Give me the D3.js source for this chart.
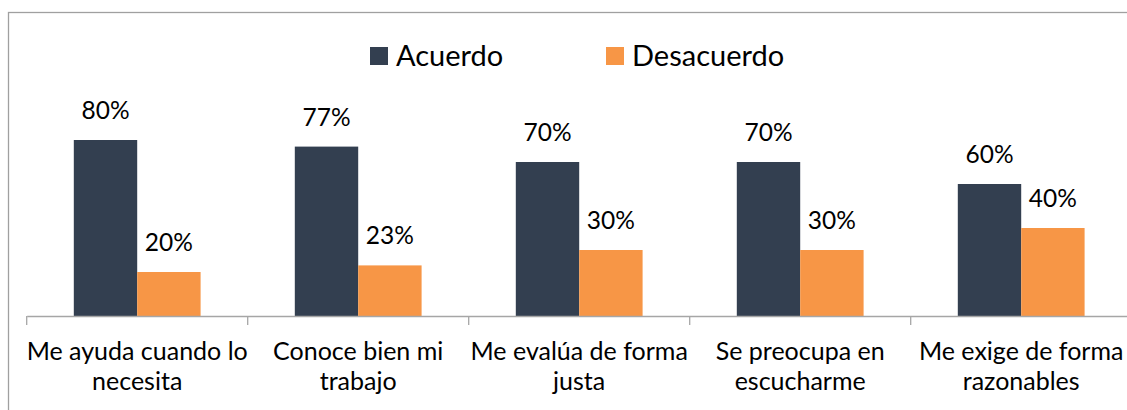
<!DOCTYPE html>
<html>
<head>
<meta charset="utf-8">
<script src="https://cdn.jsdelivr.net/npm/d3@7"></script>
<style>
  html, body { margin: 0; padding: 0; background: #fff; }
  svg { display: block; }
  text { font-family: Lato, "Liberation Sans", sans-serif; fill: #000; }
</style>
</head>
<body>
<svg id="chart" width="1127" height="410"></svg>
<script>
// ---- data ----
const categories = [
  "Me ayuda cuando lo necesita",
  "Conoce bien mi trabajo",
  "Me evalúa de forma justa",
  "Se preocupa en escucharme",
  "Me exige de forma razonables"
];
const categoryLines = [
  ["Me ayuda cuando lo", "necesita"],
  ["Conoce bien mi", "trabajo"],
  ["Me evalúa de forma", "justa"],
  ["Se preocupa en", "escucharme"],
  ["Me exige de forma", "razonables"]
];
const seriesNames = ["Acuerdo", "Desacuerdo"];
const acuerdo = [80, 77, 70, 70, 60];
const desacuerdo = [20, 23, 30, 30, 40];
const seriesValues = [acuerdo, desacuerdo];
const colors = ["#333F50", "#F79646"];

// ---- layout ----
const svg = d3.select("#chart");
const baseY = 316;
const x0 = d3.scaleBand().domain(categories).range([26.7, 1131.7]).paddingInner(0).paddingOuter(0);
const x1 = d3.scaleBand().domain(seriesNames).range([0, x0.bandwidth()]).paddingInner(0).paddingOuter(0.743);
const y = d3.scaleLinear().domain([0, 100]).range([baseY, 96]);

// outer chart border
svg.append("rect")
  .attr("x", 8.5).attr("y", 12.5)
  .attr("width", 1200).attr("height", 500)
  .attr("fill", "none").attr("stroke", "#A0A0A0").attr("stroke-width", 1.3);

// bars
const groups = svg.selectAll("g.cat")
  .data(categories)
  .join("g")
  .attr("class", "cat")
  .attr("transform", d => `translate(${x0(d)},0)`);

seriesNames.forEach((s, si) => {
  groups.append("rect")
    .attr("x", x1(s))
    .attr("y", (d, i) => y(seriesValues[si][i]))
    .attr("width", x1.bandwidth())
    .attr("height", (d, i) => baseY - y(seriesValues[si][i]))
    .attr("fill", colors[si]);
  groups.append("text")
    .attr("x", x1(s) + x1.bandwidth() / 2)
    .attr("y", (d, i) => y(seriesValues[si][i]) - 21)
    .attr("text-anchor", "middle")
    .attr("font-size", 24.5)
    .text((d, i) => seriesValues[si][i] + "%");
});

// x axis
const axis = d3.axisBottom(x0).tickSize(0).tickFormat("");
const ax = svg.append("g").attr("transform", `translate(0,${baseY})`).call(axis);
ax.select(".domain").attr("stroke", "#A6A6A6").attr("stroke-width", 1.3);
// category boundary ticks
const bounds = categories.map(c => x0(c)).concat([x0.range()[1]]);
ax.selectAll("line.bound").data(bounds).join("line")
  .attr("class", "bound")
  .attr("x1", d => d).attr("x2", d => d)
  .attr("y1", 0).attr("y2", 9)
  .attr("stroke", "#A6A6A6").attr("stroke-width", 1.3);

// category labels
categories.forEach((c, i) => {
  const t = svg.append("text")
    .attr("text-anchor", "middle")
    .attr("font-size", 25)
    .attr("x", x0(c) + x0.bandwidth() / 2)
    .attr("y", 360);
  categoryLines[i].forEach((ln, li) => {
    t.append("tspan")
      .attr("x", x0(c) + x0.bandwidth() / 2)
      .attr("y", 360 + li * 30)
      .text(ln);
  });
});

// legend
const legendX = [370, 606];
seriesNames.forEach((s, si) => {
  svg.append("rect")
    .attr("x", legendX[si]).attr("y", 47)
    .attr("width", 18).attr("height", 18)
    .attr("fill", colors[si]);
  svg.append("text")
    .attr("x", legendX[si] + 26).attr("y", 66)
    .attr("font-size", 29)
    .text(s);
});
</script>
</body>
</html>
